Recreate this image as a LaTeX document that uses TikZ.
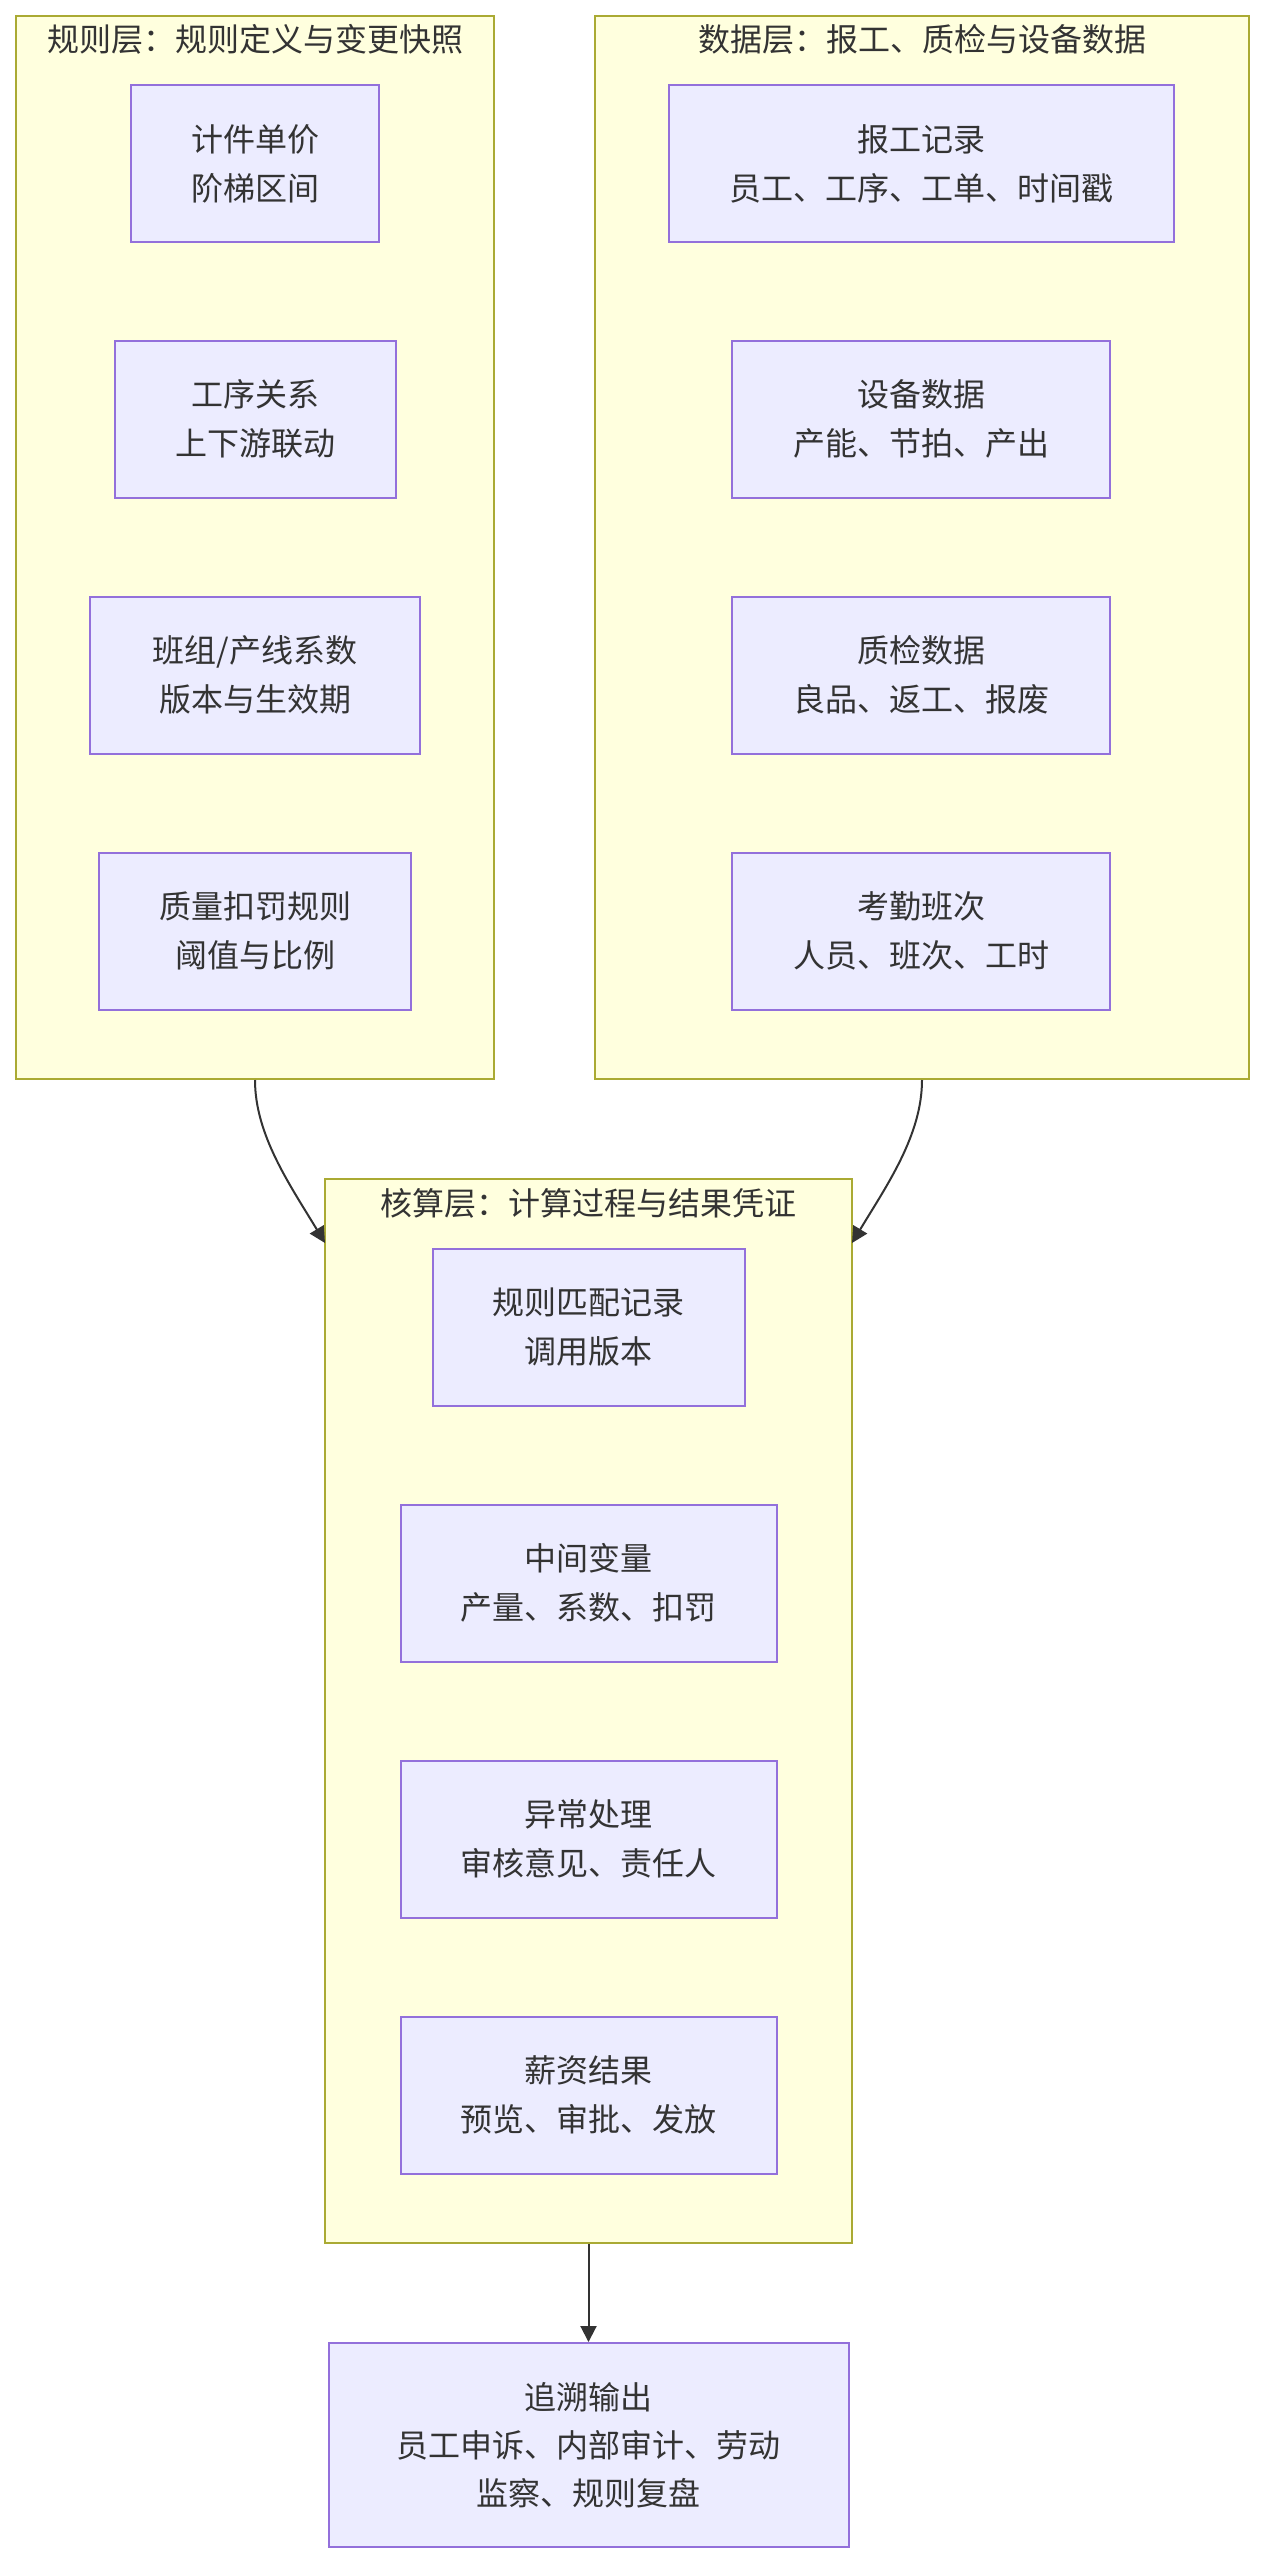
\documentclass[tikz,border=0pt]{standalone}
\usepackage{fontspec}
\setmainfont{Noto Sans CJK SC}
\usetikzlibrary{arrows.meta}
\definecolor{clfill}{HTML}{FFFFDE}
\definecolor{cldraw}{HTML}{AAAA33}
\definecolor{ndfill}{HTML}{ECECFF}
\definecolor{nddraw}{HTML}{9370DB}
\definecolor{txtgray}{HTML}{333333}

\begin{document}
\begin{tikzpicture}[x=.5pt,y=-.5pt,font=\fontsize{16}{24.5}\selectfont,text=txtgray,
    >={Triangle[length=8pt,width=8pt]},
    layer/.style={draw=cldraw,fill=clfill,line width=1pt,inner sep=0pt},
    box/.style={draw=nddraw,fill=ndfill,line width=1pt,align=center,minimum height=78.5pt},
    link/.style={->,line width=1pt,draw=txtgray}]
    \useasboundingbox (0,0) rectangle (1264,2564);
    % Schichten
    \node[layer,minimum width=239pt,minimum height=531.5pt] (ruleL) at (255,547.5) {};
    \node[layer,minimum width=327pt,minimum height=531.5pt] (dataL) at (922,547.5) {};
    \node[layer,minimum width=263.5pt,minimum height=532pt] (calcL) at (588.5,1711) {};
    \node (ruleT) at (255,39) {规则层：规则定义与变更快照};
    \node (dataT) at (922,39) {数据层：报工、质检与设备数据};
    \node (calcT) at (588.5,1203) {核算层：计算过程与结果凭证};
    % Regeln
    \node[box,minimum width=124pt] (r1) at (255,163.5) {计件单价\\阶梯区间};
    \node[box,minimum width=140.5pt] (r2) at (255,419) {工序关系\\上下游联动};
    \node[box,minimum width=165pt] (r3) at (255,675) {班组/产线系数\\版本与生效期};
    \node[box,minimum width=156pt] (r4) at (255,931) {质量扣罚规则\\阈值与比例};
    % Daten
    \node[box,minimum width=252.5pt] (d1) at (921,163.5) {报工记录\\员工、工序、工单、时间戳};
    \node[box,minimum width=189pt] (d2) at (921,419) {设备数据\\产能、节拍、产出};
    \node[box,minimum width=189pt] (d3) at (921,675) {质检数据\\良品、返工、报废};
    \node[box,minimum width=189pt] (d4) at (921,931) {考勤班次\\人员、班次、工时};
    % Berechnung
    \node[box,minimum width=156pt] (c1) at (588.5,1327) {规则匹配记录\\调用版本};
    \node[box,minimum width=188pt] (c2) at (588.5,1583) {中间变量\\产量、系数、扣罚};
    \node[box,minimum width=188pt] (c3) at (588.5,1839) {异常处理\\审核意见、责任人};
    \node[box,minimum width=188pt] (c4) at (588.5,2095) {薪资结果\\预览、审批、发放};
    \node[box,minimum width=260pt,minimum height=102pt,font=\fontsize{16}{24}\selectfont] (out) at (588.5,2445)
      {追溯输出\\员工申诉、内部审计、劳动\\监察、规则复盘};
    \coordinate (inL) at (325,1243);
    \coordinate (inR) at (852,1243);
    \draw[link] (ruleL.south) .. controls (255,1135) and (290,1185) .. (inL);
    \draw[link] (dataL.south) .. controls (922,1135) and (887,1185) .. (inR);
    \draw[link] (calcL.south) -- (out.north);
\end{tikzpicture}
\end{document}
